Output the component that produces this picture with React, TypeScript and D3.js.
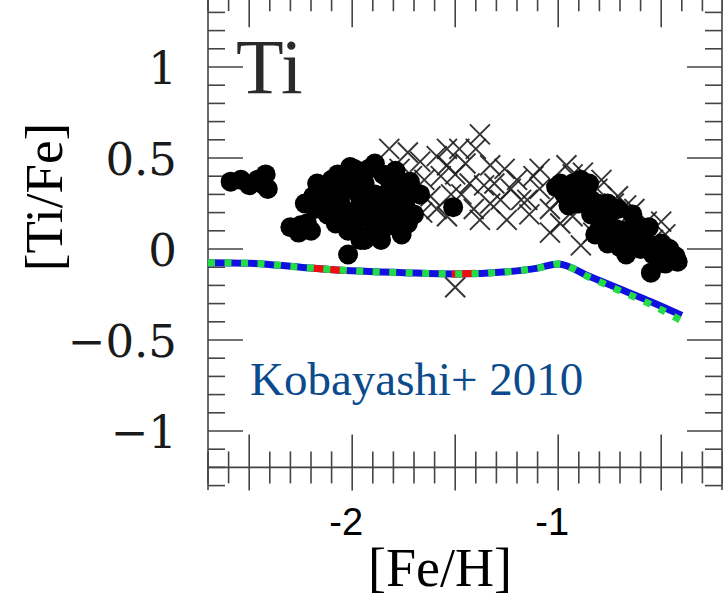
import React, { Component } from "react";
import * as d3 from "d3";

// model track (Kobayashi+ 2010), three overlapping curves
const modelFeH = [-2.7, -2.5, -2.25, -2.0, -1.75, -1.5, -1.25, -1.1, -1.0, -0.85, -0.7, -0.55, -0.4];
const modelBlue = [-0.075, -0.078, -0.1, -0.12, -0.13, -0.137, -0.125, -0.105, -0.082, -0.15, -0.22, -0.29, -0.365];
const modelGreen = [-0.075, -0.078, -0.1, -0.12, -0.13, -0.137, -0.125, -0.105, -0.082, -0.155, -0.23, -0.305, -0.395];
const modelRedFeH = [-2.7, -2.5, -2.25, -2.0, -1.75, -1.5, -1.4];
const modelRed = [-0.075, -0.078, -0.1, -0.12, -0.13, -0.137, -0.133];

// filled symbols
const starFeH = [
	-2.59, -2.5, -2.42, -2.41, -2.44, -2.54, -2.46,
	-2.3, -2.25, -2.2, -2.26, -2.22,
	-2.19, -2.17, -2.13, -2.11, -2.07, -2.06, -2.03, -2.01, -2.0, -1.99, -1.96, -1.95, -1.92, -1.91,
	-1.89, -1.86, -1.85, -1.83, -1.81, -1.78, -1.74, -1.72, -1.7, -1.67, -1.94, -2.08, -1.76, -2.02,
	-2.18, -2.15, -2.12, -2.1, -2.03, -2.05, -2.01, -1.97, -1.97, -1.94, -1.9, -1.87, -1.84, -1.82,
	-1.79, -1.77, -1.74, -1.73, -1.84, -1.91, -1.96, -2.02, -1.99, -1.89, -1.79, -2.23,
	-1.51,
	-1.01, -0.97, -0.93, -0.9, -0.87, -0.84, -0.81, -0.8, -0.76, -0.74, -0.71, -0.69, -0.66, -0.63,
	-0.6, -0.58, -0.55, -0.54, -0.5, -0.47, -0.43, -0.48, -0.95, -0.85, -0.78, -0.65,
	-0.99, -0.92, -0.89, -0.84, -0.76, -0.76, -0.72, -0.67, -0.64, -0.6, -0.56, -0.53, -0.49, -0.46,
	-0.42, -0.7, -0.82, -0.85,
];
const starTiFe = [
	0.37, 0.35, 0.41, 0.33, 0.36, 0.38, 0.38,
	0.12, 0.13, 0.1, 0.09, 0.14,
	0.29, 0.36, 0.25, 0.33, 0.41, 0.27, 0.19, 0.45, 0.33, 0.11, 0.25, 0.38, 0.44, 0.16,
	0.3, 0.05, 0.41, 0.22, 0.33, 0.14, 0.27, 0.37, 0.19, 0.3, 0.05, 0.14, 0.08, -0.03,
	0.22, 0.3, 0.19, 0.38, 0.36, 0.23, 0.15, 0.3, 0.19, 0.36, 0.25, 0.19, 0.3, 0.38,
	0.25, 0.19, 0.34, 0.14, 0.12, 0.08, 0.05, 0.1, 0.44, 0.47, 0.43, 0.25,
	0.23,
	0.34, 0.3, 0.36, 0.25, 0.3, 0.19, 0.25, 0.11, 0.16, 0.05, 0.22, 0.1, 0.03, 0.14,
	0.0, 0.07, -0.13, -0.03, 0.03, -0.04, -0.04, -0.08, 0.24, 0.24, 0.2, 0.09,
	0.36, 0.3, 0.38, 0.27, 0.25, 0.03, 0.11, -0.03, 0.19, 0.05, 0.12, 0.0, -0.04, 0.0,
	-0.07, 0.01, 0.08, 0.36,
];

// crosses
const crossFeH = [
	-1.82, -1.73, -1.67, -1.59, -1.54, -1.77, -1.57, -1.62, -1.59, -1.54, -1.66, -1.54, -1.48, -1.38,
	-1.33, -1.36, -1.41, -1.28, -1.25, -1.2, -1.12, -1.09, -1.15, -1.04, -1.04, -0.96, -0.88, -0.81,
	-0.71, -0.93, -0.89, -0.83, -0.67, -0.57, -0.5, -0.6, -0.54, -1.5, -1.43, -1.47, -1.23, -1.33,
	-0.99, -0.77, -0.7, -1.5, -1.71,
	-1.72, -1.65, -1.52, -1.45, -1.4, -1.31, -1.18, -1.14, -1.09, -1.01, -0.93, -0.79, -0.73, -0.63,
	-0.48, -1.26, -1.38, -0.99,
];
const crossTiFe = [
	0.55, 0.53, 0.48, 0.51, 0.55, 0.44, 0.4, 0.29, 0.22, 0.18, 0.2, 0.46, 0.55, 0.63,
	0.46, 0.35, 0.22, 0.27, 0.16, 0.38, 0.4, 0.33, 0.27, 0.22, 0.09, 0.46, 0.42, 0.33,
	0.29, 0.18, 0.02, 0.09, 0.24, 0.15, 0.15, 0.09, 0.05, -0.21, 0.36, 0.3, 0.33, 0.25,
	0.27, 0.19, 0.14, 0.41, 0.4,
	0.3, 0.38, 0.3, 0.47, 0.55, 0.36, 0.27, 0.19, 0.44, 0.3, 0.41, 0.38, 0.25, 0.22,
	0.08, 0.44, 0.16, 0.14,
];

const yTickVals = [1, 0.5, 0, -0.5, -1];
const yTickText = ["1", "0.5", "0", "\u22120.5", "\u22121"];
const xTickVals = [-2, -1];
const xTickText = ["-2", "-1"];

class TiPanel extends Component {
	svgRef = React.createRef<SVGSVGElement>();

	componentDidMount() {
		const svg = d3.select(this.svgRef.current);
		svg.selectAll("*").remove();
		const x = d3.scaleLinear().domain([-2.7, -0.2]).range([208, 723]);
		const y = d3.scaleLinear().domain([-1.2, 1.4]).range([467.4, -5.8]);
		const tickCol = "#444";
		const serif = "'Liberation Serif', 'DejaVu Serif', serif";

		// frame
		const frame = svg.append("g").attr("stroke", tickCol).attr("stroke-width", 1.6);
		frame.append("line").attr("x1", 208).attr("x2", 208).attr("y1", 0).attr("y2", 490);
		frame.append("line").attr("x1", 208).attr("x2", 723).attr("y1", y(-1.2)).attr("y2", y(-1.2));
		frame.append("line").attr("x1", 722).attr("x2", 722).attr("y1", 0).attr("y2", 490);

		// x ticks every 0.1
		const xt = d3.range(-27, -1).map((d) => d / 10);
		xt.forEach((v) => {
			const major = Math.abs(v * 2 - Math.round(v * 2)) < 1e-6;
			const px = x(v);
			frame.append("line").attr("x1", px).attr("x2", px)
				.attr("y1", y(-1.2) - (major ? 33 : 16)).attr("y2", y(-1.2) + (major ? 23 : 16));
			frame.append("line").attr("x1", px).attr("x2", px)
				.attr("y1", 0).attr("y2", y(1.4) + (major ? 33 : 17));
		});
		// y ticks every 0.1
		const yt = d3.range(-13, 15).map((d) => d / 10);
		yt.forEach((v) => {
			const major = Math.abs(v * 2 - Math.round(v * 2)) < 1e-6;
			const py = y(v);
			const len = major ? 35 : 17;
			frame.append("line").attr("x1", 208).attr("x2", 208 + len).attr("y1", py).attr("y2", py);
			frame.append("line").attr("x1", 722 - len).attr("x2", 722).attr("y1", py).attr("y2", py);
		});

		// crosses
		const crosses = crossFeH.map((d, i) => ({ x: d, y: crossTiFe[i] }));
		svg.append("g")
			.selectAll("path")
			.data(crosses)
			.enter()
			.append("path")
			.attr("d", "M-10,-10L10,10M-10,10L10,-10")
			.attr("transform", (d) => `translate(${x(d.x)},${y(d.y)})`)
			.attr("stroke", "#1e1e1e")
			.attr("stroke-opacity", 0.9)
			.attr("stroke-width", 1.9)
			.attr("fill", "none");

		// filled stars
		const stars = starFeH.map((d, i) => ({ x: d, y: starTiFe[i] }));
		svg.append("g")
			.selectAll("circle")
			.data(stars)
			.enter()
			.append("circle")
			.attr("cx", (d) => x(d.x))
			.attr("cy", (d) => y(d.y))
			.attr("r", 10)
			.attr("fill", "#000");

		// model lines
		const line = d3.line<number>().x((d, i) => x(modelFeH[i])).y((d) => y(d)).curve(d3.curveMonotoneX);
		const lineRed = d3.line<number>().x((d, i) => x(modelRedFeH[i])).y((d) => y(d)).curve(d3.curveMonotoneX);
		svg.append("path").attr("d", line(modelBlue)).attr("fill", "none")
			.attr("stroke", "#1010e0").attr("stroke-width", 7);
		svg.append("path").attr("d", lineRed(modelRed)).attr("fill", "none")
			.attr("stroke", "#ee1010").attr("stroke-width", 7)
			.attr("stroke-dasharray", "35 105").attr("stroke-dashoffset", 36);
		svg.append("path").attr("d", line(modelGreen)).attr("fill", "none")
			.attr("stroke", "#22dd44").attr("stroke-width", 7)
			.attr("stroke-dasharray", "7 9.5");

		// y tick labels
		svg.append("g")
			.selectAll("text")
			.data(yTickVals)
			.enter()
			.append("text")
			.attr("x", 177)
			.attr("y", (d) => y(d) + 17)
			.attr("text-anchor", "end")
			.attr("font-family", "'DejaVu Serif', serif")
			.attr("font-size", 45)
			.attr("fill", "#1a1a1a")
			.text((d, i) => yTickText[i]);

		// x tick labels
		svg.append("g")
			.selectAll("text")
			.data(xTickVals)
			.enter()
			.append("text")
			.attr("x", (d) => x(d) - 6)
			.attr("y", 535)
			.attr("text-anchor", "middle")
			.attr("font-family", "'Liberation Sans', Arial, sans-serif")
			.attr("font-size", 38)
			.attr("fill", "#000")
			.text((d, i) => xTickText[i]);

		svg.append("text").attr("x", 440).attr("y", 586).attr("text-anchor", "middle")
			.attr("font-family", serif).attr("font-size", 54).attr("fill", "#000").text("[Fe/H]");
		svg.append("text").attr("transform", "translate(62,197) rotate(-90)").attr("text-anchor", "middle")
			.attr("font-family", serif).attr("font-size", 53).attr("fill", "#000").text("[Ti/Fe]");
		svg.append("text").attr("x", 236).attr("y", 93)
			.attr("font-family", serif).attr("font-size", 78).attr("fill", "#2a2a2a").text("Ti");
		svg.append("text").attr("x", 250).attr("y", 395)
			.attr("font-family", serif).attr("font-size", 47).attr("fill", "#0b4a8c").text("Kobayashi+ 2010");
	}

	render() {
		return (
			<svg ref={this.svgRef} width={723} height={600}
				style={{ position: "absolute", left: 0, top: 0, background: "#fff" }}></svg>
		);
	}
}

export default function App() {
	return <TiPanel />;
}
